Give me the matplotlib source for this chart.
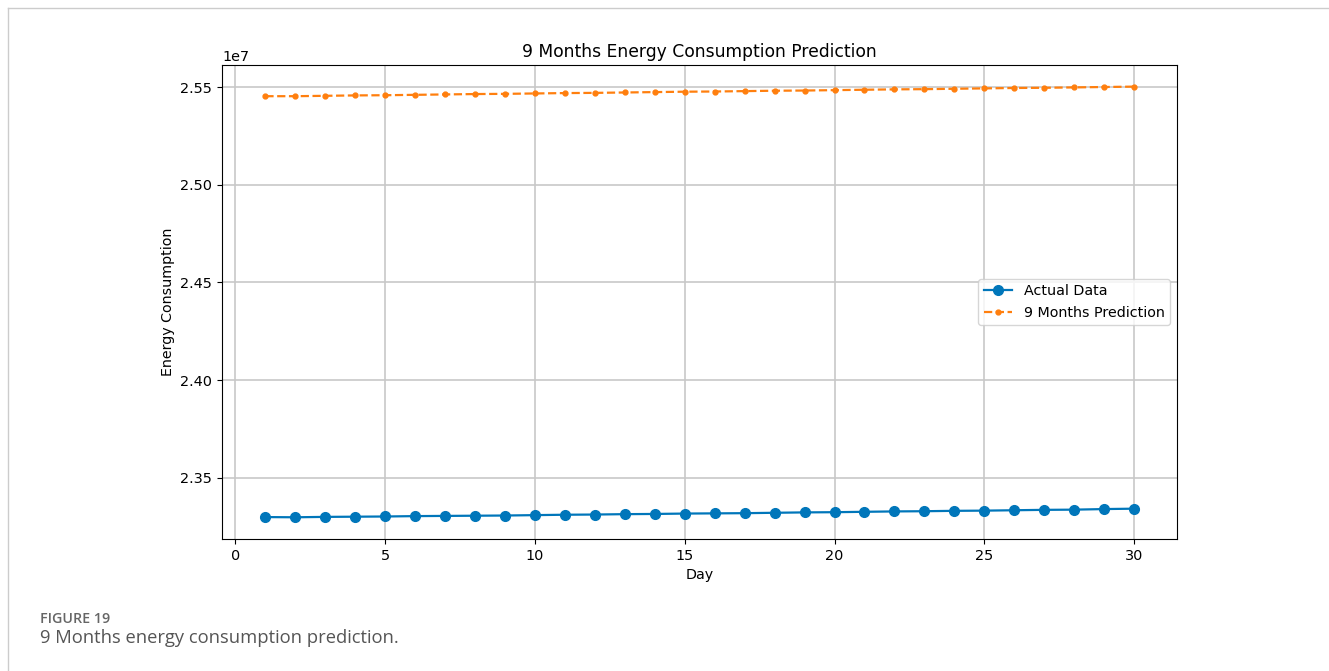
import matplotlib
matplotlib.use('Agg')
import matplotlib.pyplot as plt
from matplotlib.lines import Line2D

# days 1..30
days = list(range(1, 31))

# values, in units of 1e7
actual = [2.3300, 2.3299, 2.3301, 2.3302, 2.3303, 2.3305, 2.3306, 2.3307, 2.3308, 2.3310,
          2.3312, 2.3313, 2.3315, 2.3316, 2.3318, 2.3319, 2.3320, 2.3322, 2.3324, 2.3325,
          2.3327, 2.3329, 2.3330, 2.3332, 2.3333, 2.3335, 2.3337, 2.3338, 2.3341, 2.3343]
prediction = [2.5453, 2.5453, 2.5455, 2.5457, 2.5458, 2.5460, 2.5462, 2.5464, 2.5465, 2.5467,
              2.5469, 2.5470, 2.5472, 2.5474, 2.5476, 2.5477, 2.5479, 2.5481, 2.5482, 2.5484,
              2.5486, 2.5488, 2.5489, 2.5491, 2.5493, 2.5495, 2.5496, 2.5498, 2.5500, 2.5502]

actual = [v * 1e7 for v in actual]
prediction = [v * 1e7 for v in prediction]

fig = plt.figure(figsize=(13.29, 6.71), dpi=100)
ax = fig.add_axes([0.167, 0.197, 0.719, 0.706])

ax.plot(days, actual, color='#0076BA', marker='o', markersize=7, linewidth=1.6, label='Actual Data')
ax.plot(days, prediction, color='#FF7F0E', marker='.', markersize=7, linewidth=1.6,
        linestyle='--', label='9 Months Prediction')

ax.set_title('9 Months Energy Consumption Prediction', fontsize=12.3)
ax.set_xlabel('Day', fontsize=10.3)
ax.set_ylabel('Energy Consumption', fontsize=10.3)
ax.tick_params(labelsize=10.4)
ax.yaxis.get_offset_text().set_fontsize(10.4)
ax.grid(True, color='#c8c8c8', linewidth=1.2)
ax.set_yticks([2.35e7, 2.40e7, 2.45e7, 2.50e7, 2.55e7])
ax.legend(loc='center right', fontsize=10.3)

# page frame lines and caption
fig.add_artist(Line2D([8 / 1329, 1], [1 - 8 / 671, 1 - 8 / 671], color='#cccccc', linewidth=1))
fig.add_artist(Line2D([8 / 1329, 8 / 1329], [0, 1 - 8 / 671], color='#cccccc', linewidth=1))
fig.text(40 / 1329, 1 - 619 / 671, 'FIGURE 19', fontsize=10.3, color='#666666',
         fontweight='semibold', family='Open Sans', va='center')
fig.text(40 / 1329, 1 - 638 / 671, '9 Months energy consumption prediction.', fontsize=13.2,
         color='#555555', family='Open Sans', va='center')

fig.savefig('out.png', dpi=100)
